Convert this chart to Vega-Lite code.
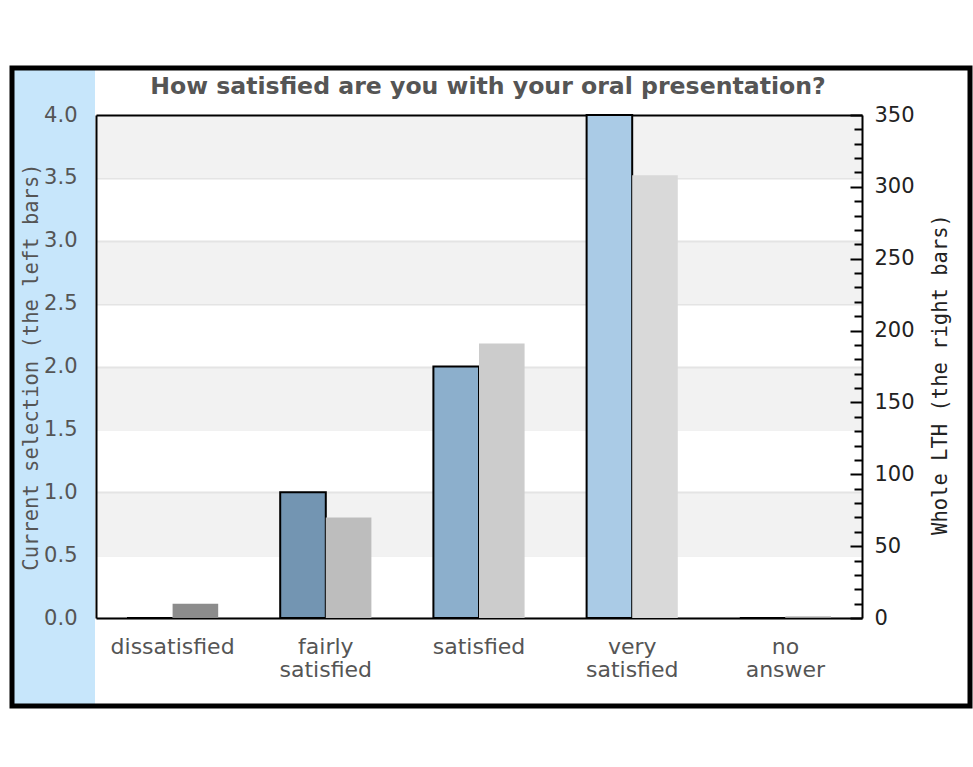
{
  "$schema": "https://vega.github.io/schema/vega-lite/v6.json",
  "autosize": {"type": "none"},
  "padding": {"left": 12, "top": 68, "right": 3, "bottom": 10},
  "width": 958,
  "height": 638,
  "background": "white",
  "title": {
    "text": "How satisfied are you with your oral presentation?",
    "anchor": "middle",
    "frame": "group",
    "offset": -50,
    "dx": -3,
    "baseline": "alphabetic",
    "font": "DejaVu Sans",
    "fontWeight": "bold",
    "fontSize": 23.6,
    "color": "#555555"
  },
  "config": {
    "view": {
      "stroke": "#000000",
      "strokeWidth": 5,
      "fill": {
        "gradient": "linear",
        "x1": 0, "y1": 0, "x2": 1, "y2": 0,
        "stops": [
          {"offset": 0, "color": "#c7e6fb"},
          {"offset": 0.0866, "color": "#c7e6fb"},
          {"offset": 0.0866, "color": "#ffffff"},
          {"offset": 1, "color": "#ffffff"}
        ]
      }
    }
  },
  "data": {
    "values": [
      {"cat": "dissatisfied", "series": "selection", "value": 0},
      {"cat": "fairly satisfied", "series": "selection", "value": 1},
      {"cat": "satisfied", "series": "selection", "value": 2},
      {"cat": "very satisfied", "series": "selection", "value": 4},
      {"cat": "no answer", "series": "selection", "value": 0},
      {"cat": "dissatisfied", "series": "whole", "value": 10},
      {"cat": "fairly satisfied", "series": "whole", "value": 70},
      {"cat": "satisfied", "series": "whole", "value": 191},
      {"cat": "very satisfied", "series": "whole", "value": 308},
      {"cat": "no answer", "series": "whole", "value": 1}
    ]
  },
  "resolve": {"scale": {"y": "independent", "color": "independent"}},
  "layer": [
    {
      "transform": [{"filter": "datum.series === 'selection'"}],
      "mark": {"type": "bar", "stroke": "#000000", "strokeWidth": 2},
      "encoding": {
        "x": {
          "field": "cat",
          "type": "nominal",
          "scale": {
            "domain": ["dissatisfied", "fairly satisfied", "satisfied", "very satisfied", "no answer"],
            "range": [84, 850],
            "paddingInner": 0,
            "paddingOuter": 0
          },
          "axis": {
            "title": null,
            "orient": "bottom",
            "offset": -88,
            "domain": true,
            "domainColor": "#000000",
            "domainWidth": 2,
            "ticks": false,
            "labelAngle": 0,
            "labelExpr": "split(datum.label, ' ')",
            "labelFont": "DejaVu Sans",
            "labelFontSize": 22,
            "labelColor": "#555555",
            "labelBaseline": "top",
            "labelLineHeight": 23,
            "labelPadding": 18,
            "labelOverlap": false
          }
        },
        "xOffset": {
          "field": "series",
          "type": "nominal",
          "scale": {"domain": ["selection", "whole"], "paddingInner": 0, "paddingOuter": 0.68}
        },
        "y": {
          "field": "value",
          "type": "quantitative",
          "scale": {"domain": [0, 4], "range": [550, 47], "nice": false},
          "axis": {
            "orient": "left",
            "offset": -84,
            "values": [0.75, 1.75, 2.75, 3.75, 0, 0.5, 1, 1.5, 2, 2.5, 3, 3.5, 4],
            "labelExpr": "datum.value % 0.5 === 0 ? format(datum.value, '.1f') : ''",
            "labelOverlap": false,
            "labelFont": "DejaVu Sans",
            "labelFontSize": 21,
            "labelColor": "#555555",
            "labelPadding": 19,
            "ticks": false,
            "domain": true,
            "domainColor": "#000000",
            "domainWidth": 2,
            "grid": true,
            "gridColor": {
              "condition": [
                {"test": "datum.value === 4", "value": "#000000"},
                {"test": "datum.value % 1 === 0.75", "value": "#f2f2f2"}
              ],
              "value": "#e4e4e4"
            },
            "gridWidth": {
              "condition": {"test": "datum.value % 1 === 0.75", "value": 63},
              "value": 2
            },
            "title": "Current selection (the left bars)",
            "titleFont": "DejaVu Sans Mono",
            "titleFontSize": 20.5,
            "titleFontWeight": "normal",
            "titleColor": "#555555",
            "titleAngle": 270,
            "titleBaseline": "top",
            "titleAlign": "center",
            "titleX": -75,
            "titleY": 298.5
          }
        },
        "color": {
          "field": "cat",
          "type": "nominal",
          "scale": {
            "domain": ["dissatisfied", "fairly satisfied", "satisfied", "very satisfied", "no answer"],
            "range": ["#5a7f9c", "#7395b2", "#8cafcc", "#aacbe6", "#c0dcf0"]
          },
          "legend": null
        }
      }
    },
    {
      "transform": [{"filter": "datum.series === 'whole'"}],
      "mark": {"type": "bar"},
      "encoding": {
        "x": {"field": "cat", "type": "nominal"},
        "xOffset": {"field": "series", "type": "nominal"},
        "y": {
          "field": "value",
          "type": "quantitative",
          "scale": {"domain": [0, 350], "range": [550, 47], "nice": false},
          "axis": {
            "orient": "right",
            "offset": -108,
            "values": [0, 10, 20, 30, 40, 50, 60, 70, 80, 90, 100, 110, 120, 130, 140, 150, 160, 170, 180, 190, 200, 210, 220, 230, 240, 250, 260, 270, 280, 290, 300, 310, 320, 330, 340, 350],
            "labelExpr": "datum.value % 50 === 0 ? datum.label : ''",
            "labelOverlap": false,
            "labelFont": "DejaVu Sans",
            "labelFontSize": 21,
            "labelColor": "#222222",
            "labelPadding": 24,
            "ticks": true,
            "tickSize": {
              "condition": {"test": "datum.value % 50 === 0", "value": -12},
              "value": -8
            },
            "tickColor": "#000000",
            "tickWidth": 2,
            "domain": true,
            "domainColor": "#000000",
            "domainWidth": 2,
            "grid": false,
            "title": "Whole LTH (the right bars)",
            "titleFont": "DejaVu Sans Mono",
            "titleFontSize": 20.5,
            "titleFontWeight": "normal",
            "titleColor": "#222222",
            "titleAngle": 270,
            "titleBaseline": "top",
            "titleAlign": "center",
            "titleX": 68,
            "titleY": 306
          }
        },
        "color": {
          "field": "cat",
          "type": "nominal",
          "scale": {
            "domain": ["dissatisfied", "fairly satisfied", "satisfied", "very satisfied", "no answer"],
            "range": ["#8c8c8c", "#bdbdbd", "#cccccc", "#d9d9d9", "#999999"]
          },
          "legend": null
        }
      }
    }
  ]
}
